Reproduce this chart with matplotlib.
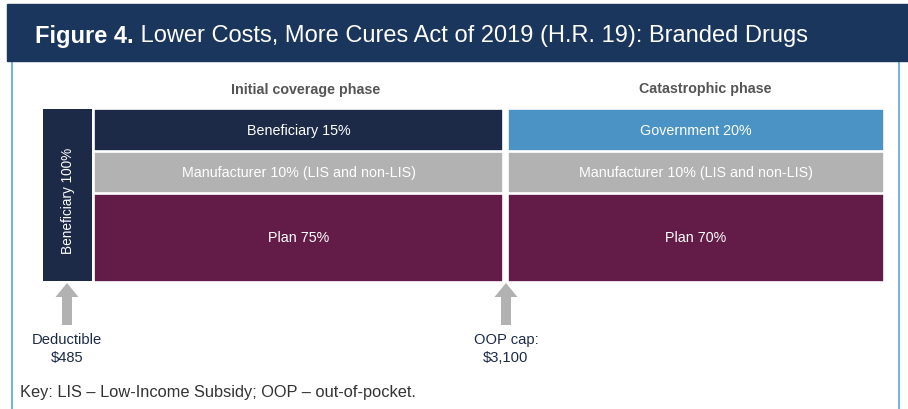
import matplotlib.pyplot as plt
from matplotlib.patches import FancyArrow, Rectangle

plt.rcParams['font.family'] = ['Liberation Sans', 'DejaVu Sans']

# chart content
title_bold = "Figure 4."
title_rest = " Lower Costs, More Cures Act of 2019 (H.R. 19): Branded Drugs"
phases = ["Initial coverage phase", "Catastrophic phase"]
initial_labels = ["Beneficiary 15%", "Manufacturer 10% (LIS and non-LIS)", "Plan 75%"]
catastrophic_labels = ["Government 20%", "Manufacturer 10% (LIS and non-LIS)", "Plan 70%"]
deductible_label = "Beneficiary 100%"
markers = ["Deductible\n$485", "OOP cap:\n$3,100"]
key_text = "Key: LIS \u2013 Low-Income Subsidy; OOP \u2013 out-of-pocket."

navy = "#1c2a48"
blue = "#4a93c4"
gray = "#b2b2b2"
plum = "#631c47"
title_bg = "#1b365d"
frame = "#5aa9dc"

fig = plt.figure(figsize=(9.08, 4.10), dpi=100)
ax = fig.add_axes([0, 0, 1, 1])
ax.set_xlim(0, 908)
ax.set_ylim(410, 0)
ax.axis('off')

# frame and title bar
ax.add_patch(Rectangle((12, 55), 887, 360, fill=False, edgecolor=frame, lw=1.2))
ax.add_patch(Rectangle((7, 5), 901, 57, color=title_bg))
t = ax.text(35, 36, title_bold, color='white', fontsize=17, fontweight='bold', va='center')
fig.canvas.draw()
bb = t.get_window_extent()
ax.text(bb.x1, 36, title_rest, color='white', fontsize=17, va='center')

# row layout (top, height) in pixels
rows_top = [110, 152.5, 194.5]
rows_h = [41.5, 41, 88]
colors_init = [navy, gray, plum]
colors_cat = [blue, gray, plum]

# deductible column
ax.bar(67.5, 172, width=49, bottom=110, color=navy, lw=0)
ax.text(68, 201, deductible_label, color='white', fontsize=9.8, rotation=90,
        ha='center', va='center')

for (x0, x1), labels, cols in [((94, 503), initial_labels, colors_init),
                               ((508, 884), catastrophic_labels, colors_cat)]:
    ax.bar((x0 + x1) / 2, rows_h, width=x1 - x0, bottom=rows_top, color=cols,
           edgecolor='white', lw=1.2)
    for top, h, lab in zip(rows_top, rows_h, labels):
        ax.text((x0 + x1) / 2, top + h / 2, lab, color='white', fontsize=10.3,
                ha='center', va='center')

ax.text(306, 90, phases[0], color='#555555', fontsize=10.3, fontweight='bold',
        ha='center', va='center')
ax.text(705, 89, phases[1], color='#555555', fontsize=10.3, fontweight='bold',
        ha='center', va='center')

# arrows and markers
for x, lab in zip([67, 506], markers):
    ax.add_patch(FancyArrow(x, 326, 0, -42, width=10, head_width=23,
                            head_length=14, length_includes_head=True,
                            color=gray, lw=0))
    ax.text(x, 349, lab, color='#1c2a48', fontsize=10.6, ha='center', va='center',
            linespacing=1.3)

ax.text(20, 393, key_text, color='#333333', fontsize=11.8, va='center')

fig.savefig("out.png", dpi=100)
